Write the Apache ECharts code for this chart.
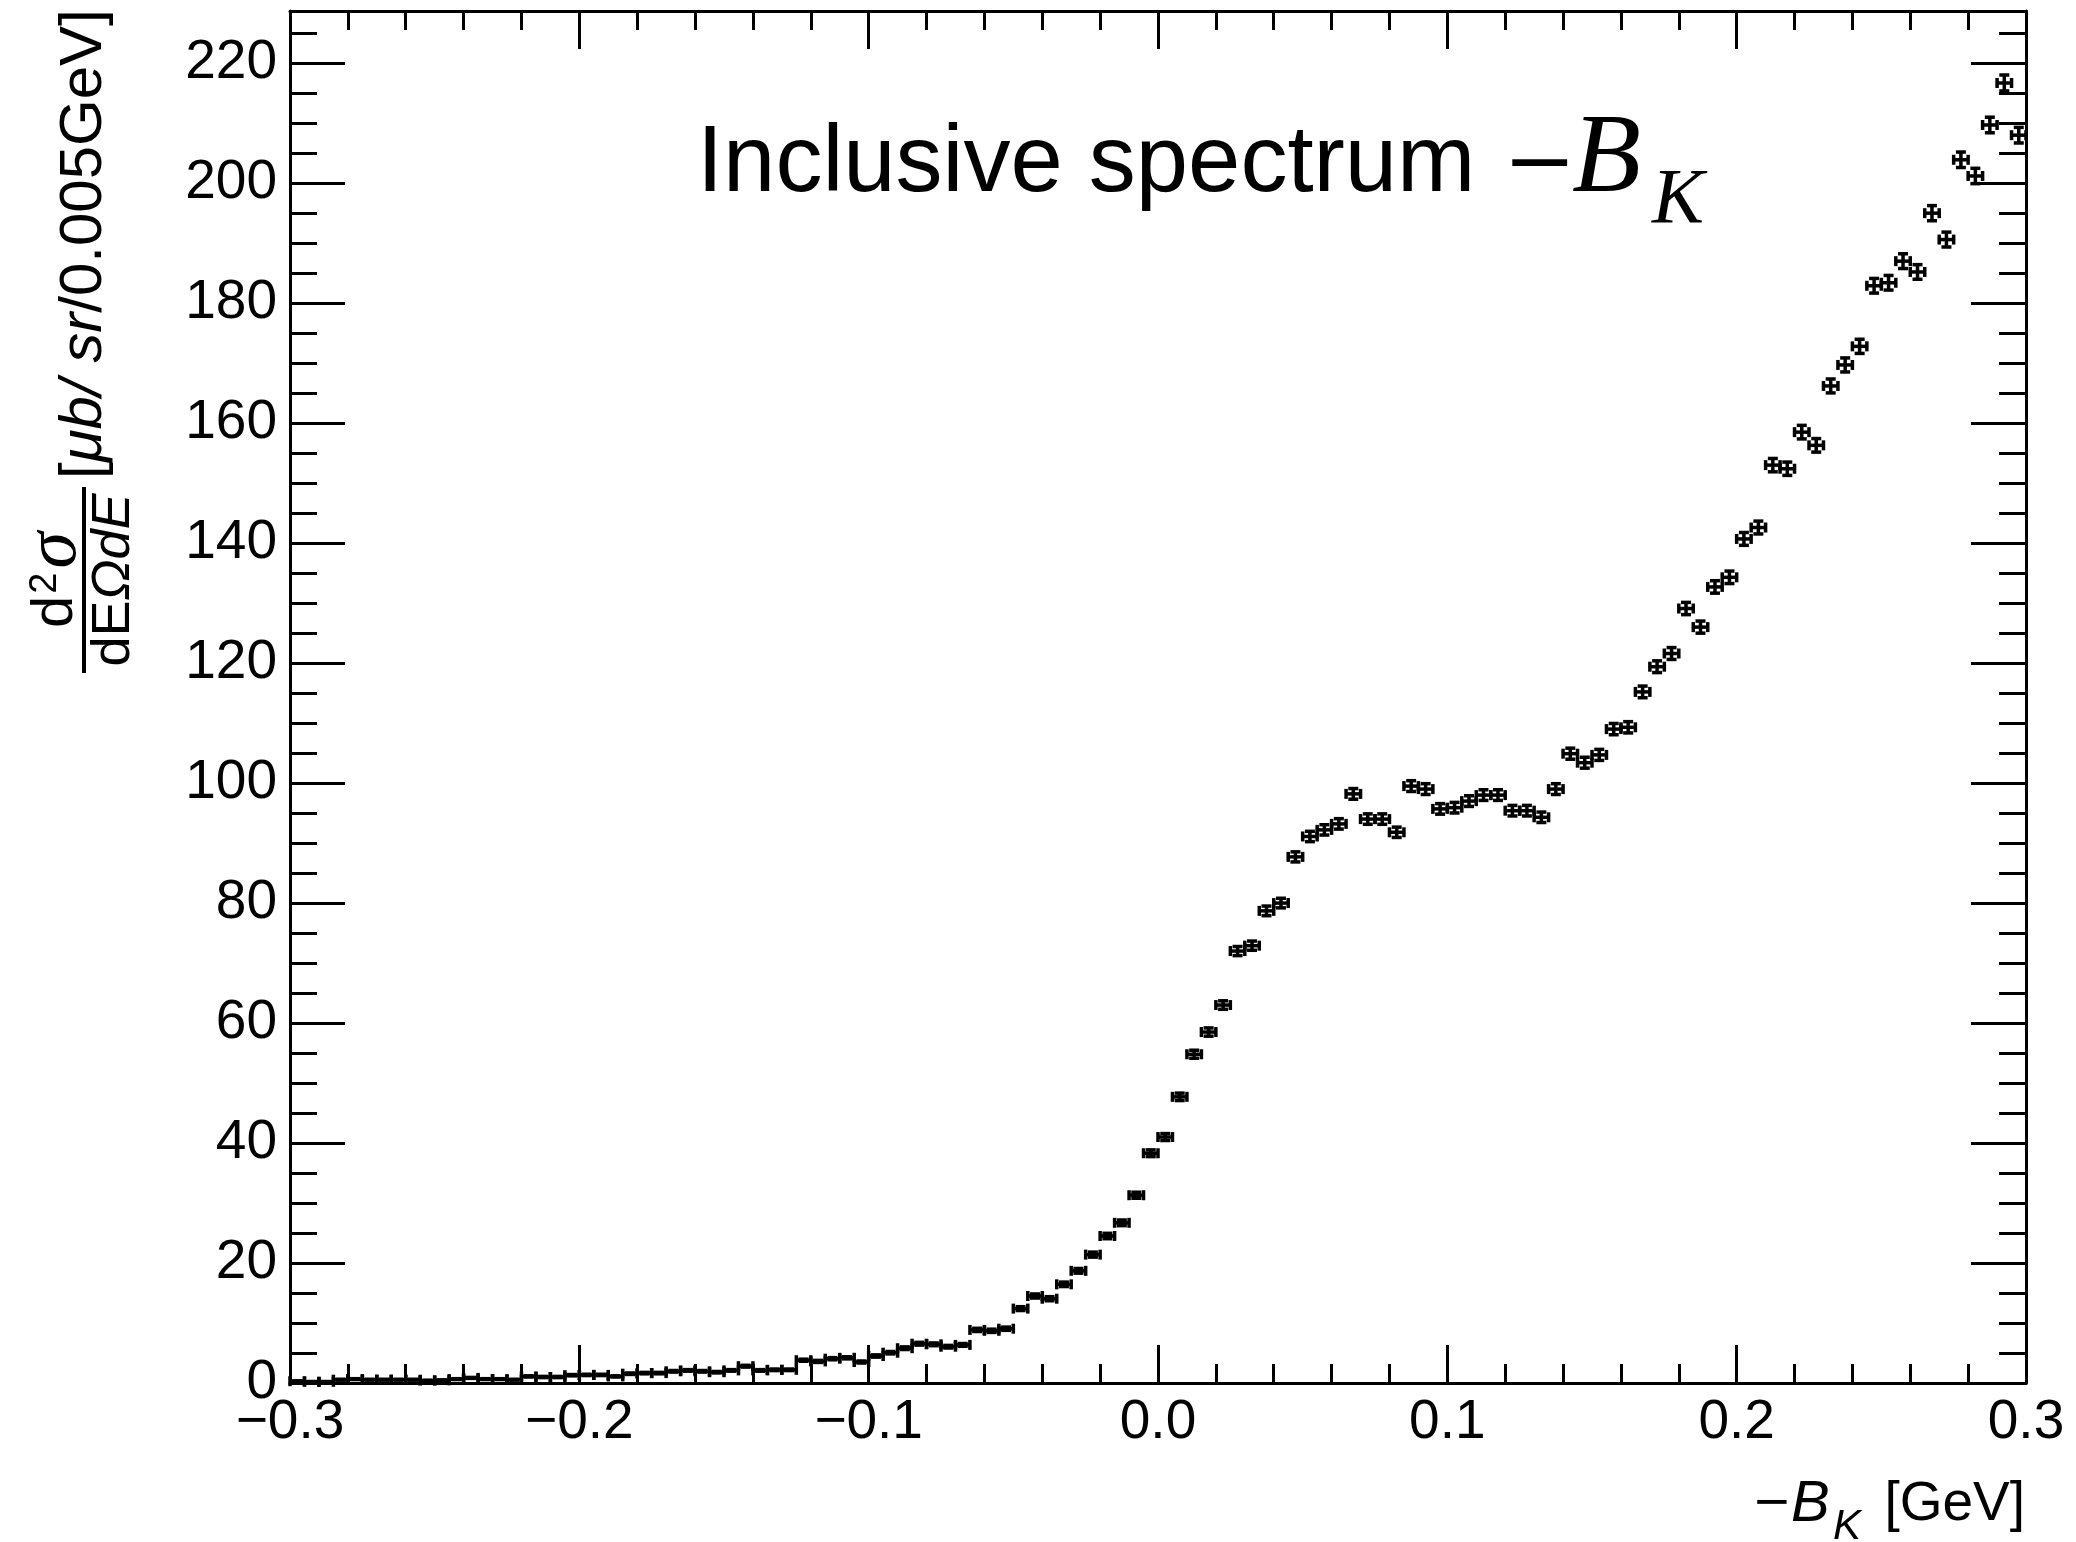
<!DOCTYPE html>
<html>
<head>
<meta charset="utf-8">
<script src="https://cdn.jsdelivr.net/npm/echarts@6/dist/echarts.min.js"></script>
<style>
  html, body { margin: 0; padding: 0; background: #fff; }
  #chart { width: 2076px; height: 1542px; }
</style>
</head>
<body>
<div id="chart"></div>
<script>
// histogram binning: 120 bins of 0.005 GeV from -0.3 to 0.3
var binLow = -0.3;
var binWidth = 0.005;

// bin contents
var counts = [
  0.3, 0.2, 0.2, 0.55, 0.65, 0.55, 0.55, 0.55, 0.55, 0.4,
  0.45, 0.65, 0.85, 0.65, 0.65, 0.55, 1.1, 1.0, 1.0, 1.3,
  1.35, 1.35, 1.1, 1.55, 1.65, 1.65, 1.95, 2.1, 1.95, 1.8,
  2.1, 2.8, 2.1, 2.2, 2.2, 3.8, 3.6, 4.05, 4.2, 3.5,
  4.5, 5.05, 5.8, 6.55, 6.45, 6.05, 6.35, 8.85, 8.7, 9.05,
  12.4, 14.5, 14.05, 16.45, 18.7, 21.4, 24.5, 26.7, 31.3, 38.3,
  41.0, 47.7, 54.8, 58.5, 63.0, 72.0, 72.9, 78.7, 80.0, 87.7,
  91.1, 92.2, 93.2, 98.2, 94.0, 94.0, 91.8, 99.5, 99.0, 95.7,
  95.9, 97.0, 98.0, 98.0, 95.4, 95.4, 94.3, 99.0, 104.9, 103.4,
  104.7, 109.0, 109.3, 115.2, 119.4, 121.6, 129.1, 126.0, 132.7, 134.3,
  140.7, 142.6, 153.0, 152.4, 158.5, 156.3, 166.2, 169.7, 172.8, 182.9,
  183.4, 187.0, 185.2, 195.0, 190.6, 203.9, 201.2, 209.7, 216.7, 208.0
];

// statistical errors (half length of the vertical bars)
var errors = [
  0.05, 0.05, 0.05, 0.07, 0.07, 0.07, 0.07, 0.07, 0.07, 0.06,
  0.06, 0.07, 0.08, 0.07, 0.07, 0.07, 0.1, 0.1, 0.1, 0.11,
  0.11, 0.11, 0.1, 0.12, 0.12, 0.12, 0.13, 0.13, 0.13, 0.12,
  0.13, 0.15, 0.13, 0.13, 0.13, 0.17, 0.17, 0.18, 0.18, 0.17,
  0.19, 0.2, 0.22, 0.23, 0.23, 0.22, 0.23, 0.27, 0.27, 0.27,
  0.32, 0.34, 0.34, 0.37, 0.39, 0.42, 0.45, 0.47, 0.5, 0.56,
  0.58, 0.62, 0.67, 0.69, 0.71, 0.76, 0.77, 0.8, 0.8, 0.84,
  0.86, 0.86, 0.87, 0.89, 0.87, 0.87, 0.86, 0.9, 0.9, 0.88,
  0.88, 0.89, 0.89, 0.89, 0.88, 0.88, 0.87, 0.9, 0.92, 0.91,
  0.92, 0.94, 0.94, 0.97, 0.98, 0.99, 1.02, 1.01, 1.04, 1.04,
  1.07, 1.07, 1.11, 1.11, 1.13, 1.13, 1.16, 1.17, 1.18, 1.22,
  1.22, 1.23, 1.22, 1.26, 1.24, 1.29, 1.28, 1.3, 1.33, 1.3
];

var xRange = [-0.3, 0.3];
var yRange = [0, 228.7];

var FONT = 'Liberation Sans';
var SERIF = 'Liberation Serif';
var black = '#000';

var histData = [];
for (var i = 0; i < counts.length; i++) {
  histData.push([binLow + (i + 0.5) * binWidth, counts[i], errors[i]]);
}

var fmtX = function (v) {
  if (Math.abs(v) < 1e-9) v = 0;
  return v.toFixed(1).replace('-', '\u2212');
};

var renderErrorBar = function (params, api) {
  var x = api.value(0), y = api.value(1), e = api.value(2);
  var pL = api.coord([x - binWidth / 2, y]);
  var pR = api.coord([x + binWidth / 2, y]);
  var pT = api.coord([x, y + e]);
  var pB = api.coord([x, y - e]);
  var c = 5;
  var st = { stroke: black, lineWidth: 3.5 };
  var seg = function (x1, y1, x2, y2) {
    return { type: 'line', shape: { x1: x1, y1: y1, x2: x2, y2: y2 }, style: st };
  };
  return {
    type: 'group',
    children: [
      seg(pL[0], pL[1], pR[0], pR[1]),
      seg(pL[0], pL[1] - c, pL[0], pL[1] + c),
      seg(pR[0], pR[1] - c, pR[0], pR[1] + c),
      seg(pT[0], pT[1], pB[0], pB[1]),
      seg(pT[0] - c, pT[1], pT[0] + c, pT[1]),
      seg(pB[0] - c, pB[1], pB[0] + c, pB[1])
    ]
  };
};

var lineSt = { color: black, width: 3 };

var xAxisBase = function (pos, showLabel) {
  return {
    type: 'value', position: pos, min: xRange[0], max: xRange[1], interval: 0.1,
    axisLine: { show: true, onZero: false, lineStyle: lineSt },
    axisTick: { show: true, inside: true, length: 38, lineStyle: lineSt },
    minorTick: { show: true, splitNumber: 5, length: 19, lineStyle: lineSt },
    axisLabel: { show: showLabel, formatter: fmtX, fontSize: 55, fontFamily: FONT, color: black, margin: 12 },
    splitLine: { show: false },
    minorSplitLine: { show: false }
  };
};

var yAxisBase = function (pos, interval, tickLen, showLine, showLabel) {
  return {
    type: 'value', position: pos, min: yRange[0], max: yRange[1], interval: interval,
    axisLine: { show: showLine, onZero: false, lineStyle: lineSt },
    axisTick: { show: true, inside: true, length: tickLen, lineStyle: lineSt },
    axisLabel: { show: showLabel, showMaxLabel: false, fontSize: 55, fontFamily: FONT, color: black, margin: 13 },
    splitLine: { show: false }
  };
};

var chart = echarts.init(document.getElementById('chart'), null, { renderer: 'canvas' });

chart.setOption({
  animation: false,
  backgroundColor: '#fff',
  grid: { left: 290, right: 50, top: 11, bottom: 159, containLabel: false, outerBoundsMode: 'none' },
  xAxis: [xAxisBase('bottom', true), xAxisBase('top', false)],
  yAxis: [
    yAxisBase('left', 20, 55, true, true),
    yAxisBase('left', 5, 27, false, false),
    yAxisBase('right', 20, 55, true, false),
    yAxisBase('right', 5, 27, false, false)
  ],
  series: [{
    type: 'custom',
    xAxisIndex: 0,
    yAxisIndex: 0,
    clip: false,
    renderItem: renderErrorBar,
    data: histData
  }],
  graphic: [
    // title
    { type: 'text', x: 697, y: 165, style: { text: 'Inclusive spectrum', fontSize: 94, fontFamily: FONT, fill: black, align: 'left', verticalAlign: 'middle' } },
    { type: 'text', x: 1507, y: 168, scaleX: 1.2, style: { text: '\u2212', fontSize: 94, fontFamily: FONT, fill: black, align: 'left', verticalAlign: 'middle' } },
    { type: 'text', x: 1572, y: 161, style: { text: 'B', fontSize: 113, fontFamily: SERIF, fontStyle: 'italic', fill: black, align: 'left', verticalAlign: 'middle' } },
    { type: 'text', x: 1652, y: 201, style: { text: 'K', fontSize: 78, fontFamily: SERIF, fontStyle: 'italic', fill: black, align: 'left', verticalAlign: 'middle' } },
    // x axis title
    { type: 'text', x: 1754, y: 1505, scaleX: 1.1, style: { text: '\u2212', fontSize: 55, fontFamily: FONT, fill: black, align: 'left', verticalAlign: 'middle' } },
    { type: 'text', x: 1791, y: 1505, style: { text: 'B', fontSize: 58, fontFamily: FONT, fontStyle: 'italic', fill: black, align: 'left', verticalAlign: 'middle' } },
    { type: 'text', x: 1833, y: 1527, style: { text: 'K', fontSize: 42, fontFamily: FONT, fontStyle: 'italic', fill: black, align: 'left', verticalAlign: 'middle' } },
    { type: 'text', x: 2025, y: 1505, style: { text: '[GeV]', fontSize: 55, fontFamily: FONT, fill: black, align: 'right', verticalAlign: 'middle' } },
    // y axis title, rotated
    {
      type: 'group', x: 84, y: 673, rotation: Math.PI / 2,
      children: [
        { type: 'line', shape: { x1: 0, y1: 0, x2: 186, y2: 0 }, style: { stroke: black, lineWidth: 4 } },
        { type: 'text', x: 93, y: -28, style: {
          text: '{r|d}{s|2}{g|\u03c3}', align: 'center', verticalAlign: 'middle',
          rich: {
            r: { fontSize: 58, fontFamily: FONT, fill: black, lineHeight: 58, verticalAlign: 'middle' },
            s: { fontSize: 38, fontFamily: FONT, fill: black, lineHeight: 38, verticalAlign: 'top', padding: [0, 4, 0, 2] },
            g: { fontSize: 74, fontFamily: SERIF, fontStyle: 'italic', fill: black, lineHeight: 58, verticalAlign: 'middle' }
          }
        } },
        { type: 'text', x: 93, y: 30, style: {
          text: '{r|dE}{i|\u03a9dE}', align: 'center', verticalAlign: 'middle',
          rich: {
            r: { fontSize: 54, fontFamily: FONT, fill: black, lineHeight: 54 },
            i: { fontSize: 54, fontFamily: FONT, fontStyle: 'italic', fill: black, lineHeight: 54 }
          }
        } },
        { type: 'text', x: 194, y: 0, style: {
          text: '{r|[}{i|\u03bcb/ sr}{r|/0.005GeV]}', align: 'left', verticalAlign: 'middle',
          rich: {
            r: { fontSize: 60, fontFamily: FONT, fill: black, lineHeight: 60 },
            i: { fontSize: 60, fontFamily: FONT, fontStyle: 'italic', fill: black, lineHeight: 60 }
          }
        } }
      ]
    }
  ]
});
</script>
</body>
</html>
